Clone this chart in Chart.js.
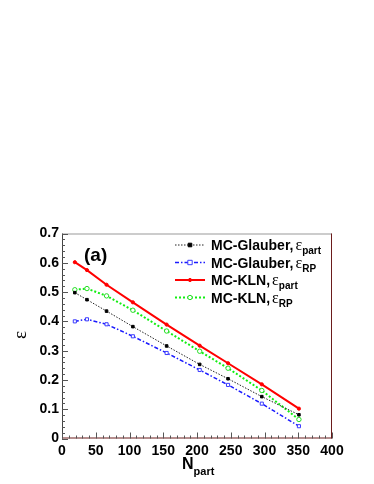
<!DOCTYPE html>
<html>
<head>
<meta charset="utf-8">
<script src="https://cdn.jsdelivr.net/npm/chart.js@4/dist/chart.umd.min.js"></script>
<style>
  body { margin: 0; background: #fff; }
  canvas { display: block; }
</style>
</head>
<body>
<canvas id="c" width="374" height="484"></canvas>
<script>
// N_part bins and eccentricities
var nPart = [19, 37, 66, 105, 155, 204, 246, 296, 351];
var glauberPart = [0.498, 0.474, 0.435, 0.382, 0.316, 0.253, 0.204, 0.143, 0.081];
var glauberRP   = [0.400, 0.407, 0.390, 0.349, 0.292, 0.234, 0.183, 0.119, 0.042];
var klnPart     = [0.602, 0.575, 0.525, 0.465, 0.389, 0.317, 0.257, 0.185, 0.102];
var klnRP       = [0.508, 0.512, 0.487, 0.438, 0.367, 0.298, 0.240, 0.164, 0.065];

var seriesNames = ["MC-Glauber,", "MC-Glauber,", "MC-KLN,", "MC-KLN,"];
var seriesSubs = ["part", "RP", "part", "RP"];
var xTicks = [0, 50, 100, 150, 200, 250, 300, 350, 400];
var yTicks = [0, 0.1, 0.2, 0.3, 0.4, 0.5, 0.6, 0.7];

var toPoints = function(ys) {
  return ys.map(function(y, i) { return { x: nPart[i], y: y }; });
};

var SANS = "'Liberation Sans', Arial, sans-serif";
var SERIF = "'Liberation Serif', 'DejaVu Serif', serif";

// frame, inward ticks, legend and axis titles in the ROOT style
var rootStyle = {
  id: 'rootStyle',
  afterDatasetsDraw: function(chart) {
    var ctx = chart.ctx;
    var a = chart.chartArea;
    var xs = chart.scales.x, ys = chart.scales.y;
    ctx.save();

    // frame
    ctx.lineWidth = 1;
    ctx.strokeStyle = '#999';
    ctx.beginPath(); ctx.moveTo(a.left, a.top + 0.5); ctx.lineTo(a.right, a.top + 0.5); ctx.stroke();
    ctx.strokeStyle = '#6b1c1c';
    ctx.beginPath(); ctx.moveTo(a.right - 0.5, a.top); ctx.lineTo(a.right - 0.5, a.bottom); ctx.stroke();
    ctx.beginPath(); ctx.moveTo(a.left, a.bottom - 0.5); ctx.lineTo(a.right, a.bottom - 0.5); ctx.stroke();
    ctx.strokeStyle = '#444';
    ctx.beginPath(); ctx.moveTo(a.left + 0.5, a.top); ctx.lineTo(a.left + 0.5, a.bottom); ctx.stroke();

    // ticks on the y axis, pointing in
    ctx.strokeStyle = '#555';
    for (var v = 0; v <= 70; v += 2) {
      var py = Math.round(ys.getPixelForValue(v / 100)) + 0.5;
      var len = (v % 10 === 0) ? 6 : 3;
      ctx.beginPath(); ctx.moveTo(a.left, py); ctx.lineTo(a.left + len, py); ctx.stroke();
    }
    // ticks on the x axis
    for (var n = 0; n <= 400; n += 10) {
      var px = Math.round(xs.getPixelForValue(n)) + 0.5;
      var l2 = (n % 50 === 0) ? 6 : 3;
      ctx.beginPath(); ctx.moveTo(px, a.bottom); ctx.lineTo(px, a.bottom - l2); ctx.stroke();
    }

    // legend
    var lx0 = 175, lx1 = 205, tx = 211;
    var rows = [245, 262.5, 280, 297.5];
    chart.data.datasets.forEach(function(ds, i) {
      var ry = rows[i];
      ctx.save();
      ctx.strokeStyle = ds.borderColor;
      ctx.lineWidth = ds.borderWidth;
      ctx.setLineDash(ds.borderDash || []);
      ctx.beginPath(); ctx.moveTo(lx0, ry); ctx.lineTo(lx1, ry); ctx.stroke();
      ctx.setLineDash([]);
      ctx.lineWidth = ds.pointBorderWidth;
      ctx.fillStyle = ds.pointBackgroundColor;
      ctx.strokeStyle = ds.pointBorderColor;
      var cx = (lx0 + lx1) / 2, r = ds.pointRadius;
      ctx.beginPath();
      if (ds.pointStyle === 'rect') ctx.rect(cx - r, ry - r, 2 * r, 2 * r);
      else ctx.arc(cx, ry, r, 0, Math.PI * 2);
      ctx.fill(); ctx.stroke();
      ctx.restore();

      ctx.fillStyle = '#000';
      ctx.textBaseline = 'alphabetic';
      ctx.textAlign = 'left';
      ctx.font = 'bold 14px ' + SANS;
      var t = seriesNames[i];
      ctx.fillText(t, tx, ry + 5);
      var w = ctx.measureText(t).width + 2;
      ctx.font = '16px ' + SERIF;
      ctx.fillText('\u03b5', tx + w, ry + 5);
      w += ctx.measureText('\u03b5').width;
      ctx.font = 'bold 10px ' + SANS;
      ctx.fillText(seriesSubs[i], tx + w, ry + 9);
    });

    // panel label
    ctx.font = 'bold 19px ' + SANS;
    ctx.fillText('(a)', 84, 261);

    // axis titles
    ctx.font = 'bold 16px ' + SANS;
    ctx.fillText('N', 182, 469);
    var nw = ctx.measureText('N').width;
    ctx.font = 'bold 11px ' + SANS;
    ctx.fillText('part', 182 + nw, 475);

    ctx.save();
    ctx.translate(26, 335);
    ctx.rotate(-Math.PI / 2);
    ctx.textAlign = 'center';
    ctx.font = '19px ' + SERIF;
    ctx.fillText('\u03b5', 0, 0);
    ctx.restore();

    ctx.restore();
  }
};

var chart = new Chart(document.getElementById('c'), {
  type: 'line',
  data: {
    datasets: [
      {
        data: toPoints(glauberPart),
        borderColor: '#222', borderWidth: 1, borderDash: [1.5, 1.5],
        pointStyle: 'rect', pointRadius: 1.8, pointBorderWidth: 1,
        pointBackgroundColor: '#000', pointBorderColor: '#000'
      },
      {
        data: toPoints(glauberRP),
        borderColor: '#1a1aff', borderWidth: 1.5, borderDash: [4, 2, 1.5, 2],
        pointStyle: 'rect', pointRadius: 2.2, pointBorderWidth: 1,
        pointBackgroundColor: '#fff', pointBorderColor: '#3a3aff'
      },
      {
        data: toPoints(klnPart),
        borderColor: '#ff0000', borderWidth: 2,
        pointStyle: 'circle', pointRadius: 1.6, pointBorderWidth: 1,
        pointBackgroundColor: '#ff0000', pointBorderColor: '#ff0000'
      },
      {
        data: toPoints(klnRP),
        borderColor: '#11ee11', borderWidth: 2, borderDash: [2, 2],
        pointStyle: 'circle', pointRadius: 2.2, pointBorderWidth: 1,
        pointBackgroundColor: '#fff', pointBorderColor: '#22dd22'
      }
    ]
  },
  options: {
    responsive: false,
    animation: false,
    layout: { padding: { top: 233.5, right: 42, left: 0, bottom: 0 } },
    plugins: { legend: { display: false }, tooltip: { enabled: false } },
    elements: { line: { tension: 0, fill: false } },
    scales: {
      x: {
        type: 'linear', min: 0, max: 400,
        afterBuildTicks: function(s) { s.ticks = xTicks.map(function(v) { return { value: v }; }); },
        afterFit: function(s) { s.height = 45.5; },
        grid: { display: false, drawTicks: false },
        border: { display: false },
        ticks: { color: '#000', padding: 4, maxRotation: 0, font: { family: SANS, size: 14, weight: 'bold' } }
      },
      y: {
        type: 'linear', min: 0, max: 0.7,
        afterBuildTicks: function(s) { s.ticks = yTicks.map(function(v) { return { value: v }; }); },
        afterFit: function(s) { s.width = 62; },
        grid: { display: false, drawTicks: false },
        border: { display: false },
        ticks: {
          color: '#000', padding: 3, font: { family: SANS, size: 14, weight: 'bold' },
          callback: function(v) { return v === 0 ? '0' : v.toFixed(1); }
        }
      }
    }
  },
  plugins: [rootStyle]
});
</script>
</body>
</html>
